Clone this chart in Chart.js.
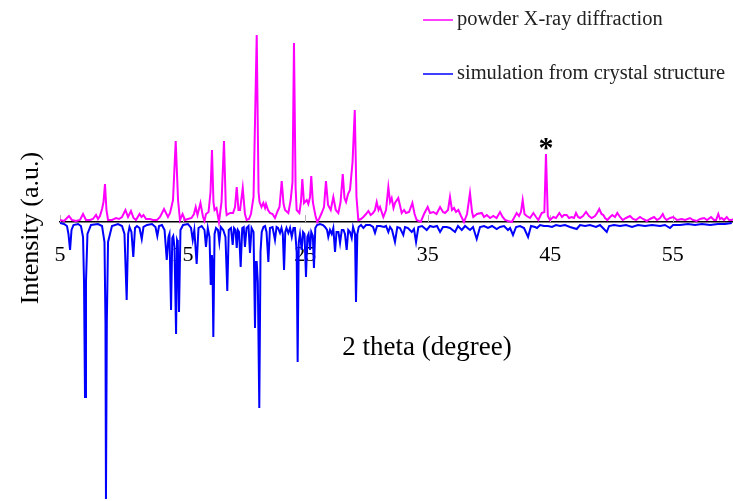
<!DOCTYPE html>
<html>
<head>
<meta charset="utf-8">
<script src="https://cdn.jsdelivr.net/npm/chart.js@4/dist/chart.umd.min.js"></script>
<style>
  html, body { margin: 0; padding: 0; background: #fff; }
  #wrap { width: 733px; height: 501px; position: relative; }
</style>
</head>
<body>
<div id="wrap"><canvas id="xrdChart"></canvas></div>
<script>
// tick labels on the 2-theta axis
const tickValues = [5, 15, 25, 35, 45, 55];

// measured powder pattern (2 theta, intensity a.u.)
const pxrdTheta = [
  5.00,5.33,5.49,5.73,5.98,6.31,6.63,6.88,7.12,7.45,
  7.69,7.94,8.10,8.26,8.43,8.55,8.67,8.79,8.92,9.24,
  9.57,9.81,10.06,10.34,10.55,10.79,11.00,11.20,11.49,11.65,
  11.81,12.02,12.34,12.59,12.91,13.16,13.49,13.65,13.81,13.98,
  14.22,14.44,14.63,14.79,15.00,15.20,15.44,15.73,15.93,16.07,
  16.22,16.46,16.67,16.79,16.91,17.12,17.28,17.40,17.52,17.61,
  17.77,17.97,18.18,18.38,18.53,18.60,18.87,19.12,19.28,19.42,
  19.56,19.69,19.91,20.09,20.23,20.42,20.58,20.79,21.05,21.20,
  21.28,21.44,21.59,21.73,21.81,21.97,22.13,22.34,22.54,22.76,
  22.91,23.09,23.24,23.36,23.63,23.82,23.97,24.09,24.22,24.31,
  24.53,24.66,24.77,24.91,25.13,25.26,25.40,25.50,25.63,25.72,
  25.85,25.99,26.17,26.35,26.54,26.70,26.87,27.09,27.30,27.50,
  27.71,27.89,28.07,28.21,28.34,28.50,28.66,28.87,29.05,29.19,
  29.34,29.56,29.75,29.97,30.16,30.35,30.54,30.70,30.84,30.99,
  31.11,31.38,31.60,31.79,31.93,32.06,32.21,32.33,32.60,32.88,
  33.07,33.23,33.48,33.75,33.93,34.10,34.43,34.70,35.00,35.19,
  35.46,35.72,36.01,36.25,36.41,36.66,36.82,36.98,37.15,37.31,
  37.50,37.72,37.96,38.21,38.45,38.62,38.72,39.02,39.41,39.60,
  39.82,40.09,40.35,40.62,40.90,41.11,41.31,41.55,41.86,42.04,
  42.26,42.45,42.61,42.75,42.90,43.08,43.35,43.62,43.84,44.03,
  44.30,44.52,44.65,44.80,44.98,45.25,45.47,45.74,45.96,46.12,
  46.34,46.53,46.75,46.94,47.10,47.27,47.43,47.67,47.92,48.16,
  48.38,48.65,48.82,49.00,49.18,49.33,49.47,49.66,49.88,50.06,
  50.28,50.47,50.69,50.91,51.18,51.51,51.75,52.00,52.32,52.57,
  52.87,53.14,53.47,53.71,53.96,54.18,54.32,54.50,54.77,55.04,
  55.34,55.73,56.00,56.40,56.65,56.95,57.22,57.55,57.79,58.12,
  58.36,58.53,58.71,58.85,58.99,59.18,59.40,59.59,59.81,59.91
];
const pxrdIntensity = [
  2,1,3,6,2,1,2,8,2,2,
  3,7,3,6,13,20,38,12,2,2,
  4,3,5,12,5,11,4,2,8,5,
  7,3,3,2,2,5,13,9,5,9,
  22,81,22,2,8,2,3,4,8,15,
  7,19,5,1,8,10,30,72,20,12,
  14,0,20,81,15,7,9,9,15,35,
  12,12,34,8,2,3,8,25,187,30,
  20,15,19,14,18,12,9,8,4,11,
  15,41,18,12,9,22,40,179,35,12,
  9,20,43,19,22,18,25,46,20,14,
  6,0,4,9,15,41,17,12,25,12,
  9,20,48,24,20,28,32,60,112,25,
  2,3,5,8,11,7,9,12,20,12,
  15,5,12,35,20,24,14,19,24,9,
  12,9,10,19,8,2,0,8,15,9,
  10,8,15,10,9,12,25,12,14,10,
  12,6,0,8,29,10,5,8,9,5,
  7,4,6,4,10,5,2,1,0,4,
  9,6,10,22,8,6,4,9,5,2,
  9,10,68,6,2,5,4,9,5,7,
  7,4,5,4,9,5,4,6,10,6,
  4,6,9,13,8,7,4,2,5,7,
  5,9,5,2,4,6,3,2,5,3,
  1,3,5,2,4,8,4,2,4,5,
  2,3,2,4,2,1,3,4,2,5,
  2,2,8,3,4,2,5,2,2,3
];

// simulated pattern, plotted downwards
const simTheta = [
  5.00,5.33,5.57,5.69,5.82,5.94,6.10,6.47,6.71,6.88,
  6.96,7.04,7.12,7.24,7.53,8.10,8.43,8.63,8.71,8.75,
  8.82,8.92,9.24,9.73,10.06,10.26,10.44,10.56,10.67,10.83,
  10.98,11.12,11.28,11.49,11.67,11.81,12.10,12.51,12.79,12.94,
  13.08,13.32,13.53,13.71,13.85,13.93,14.06,14.16,14.24,14.34,
  14.47,14.55,14.61,14.71,14.83,15.04,15.44,15.69,15.83,15.96,
  16.15,16.30,16.56,16.79,16.91,17.06,17.20,17.30,17.39,17.44,
  17.51,17.61,17.73,17.89,18.00,18.12,18.32,18.50,18.65,18.77,
  18.95,19.09,19.20,19.32,19.42,19.51,19.61,19.74,19.87,19.99,
  20.09,20.22,20.38,20.50,20.63,20.79,20.91,20.98,21.05,21.14,
  21.26,21.36,21.46,21.60,21.73,21.85,22.00,22.13,22.34,22.54,
  22.67,22.79,22.95,23.07,23.18,23.28,23.38,23.48,23.63,23.77,
  23.91,24.05,24.17,24.31,24.39,24.48,24.58,24.72,24.83,24.95,
  25.07,25.18,25.28,25.40,25.50,25.63,25.72,25.83,25.97,26.21,
  26.46,26.62,26.79,26.89,27.03,27.17,27.30,27.44,27.56,27.72,
  27.85,27.99,28.13,28.25,28.39,28.52,28.66,28.80,28.91,29.07,
  29.15,29.26,29.37,29.56,29.75,29.97,30.29,30.54,30.70,30.87,
  31.11,31.44,31.60,31.79,31.93,32.09,32.33,32.52,32.74,33.01,
  33.15,33.39,33.70,33.88,34.05,34.24,34.54,34.92,35.19,35.46,
  35.76,36.01,36.25,36.55,36.82,37.23,37.47,37.78,38.05,38.45,
  38.70,39.00,39.27,39.60,39.92,40.25,40.63,40.90,41.23,41.55,
  41.72,41.96,42.21,42.53,42.86,43.19,43.43,43.76,43.92,44.17,
  44.49,44.82,45.14,45.47,45.80,46.20,46.61,47.16,47.43,47.84,
  48.24,48.73,49.06,49.61,49.80,50.20,50.69,51.18,51.67,52.16,
  52.73,53.30,53.96,54.36,54.77,55.02,55.59,56.24,56.81,57.38,
  58.04,58.69,59.26,59.81
];
const simIntensity = [
  -1,-2,-4,-12,-28,-8,-3,-2,-4,-15,
  -60,-175,-60,-12,-3,-2,-4,-20,-100,-277,
  -100,-20,-4,-2,-4,-12,-78,-12,-5,-10,
  -35,-6,-4,-6,-17,-5,-3,-2,-5,-14,
  -4,-3,-8,-38,-15,-12,-88,-16,-14,-25,
  -112,-18,-20,-90,-8,-3,-2,-6,-18,-8,
  -42,-6,-4,-8,-25,-6,-15,-63,-33,-40,
  -115,-12,-6,-8,-20,-5,-8,-15,-69,-8,
  -6,-23,-6,-8,-26,-8,-10,-45,-6,-5,
  -25,-6,-4,-31,-6,-10,-106,-40,-40,-60,
  -186,-30,-10,-5,-4,-10,-40,-6,-5,-18,
  -5,-6,-11,-6,-12,-48,-10,-6,-11,-6,
  -15,-6,-6,-30,-140,-20,-12,-28,-10,-12,
  -55,-15,-12,-28,-10,-14,-46,-6,-3,-2,
  -3,-5,-8,-15,-8,-12,-6,-30,-10,-10,
  -21,-8,-8,-12,-28,-8,-10,-16,-5,-12,
  -80,-12,-5,-3,-6,-3,-3,-5,-11,-4,
  -4,-5,-4,-10,-5,-8,-20,-5,-6,-13,
  -5,-6,-10,-7,-20,-5,-4,-8,-4,-5,
  -4,-10,-5,-5,-6,-10,-4,-8,-4,-8,
  -5,-17,-5,-4,-6,-4,-7,-5,-4,-8,
  -6,-13,-5,-4,-6,-15,-4,-5,-6,-3,
  -4,-4,-5,-3,-4,-3,-5,-7,-3,-4,
  -3,-5,-3,-10,-4,-3,-4,-3,-5,-3,
  -4,-3,-4,-3,-6,-3,-3,-2,-3,-2,
  -3,-2,-2,-1
];

const serif = '"Liberation Serif", "Times New Roman", serif';

const toPoints = (xs, ys) => xs.map((x, i) => ({ x: x, y: ys[i] }));

// small upward ticks on the zero line, titles, legend and the * marker
const decorations = {
  id: 'decorations',
  beforeDatasetsDraw(chart) {
    const ctx = chart.ctx;
    const xs = chart.scales.x;
    const y0 = chart.scales.y.getPixelForValue(0);
    ctx.save();
    ctx.strokeStyle = '#b0b0b0';
    ctx.lineWidth = 1;
    tickValues.forEach(v => {
      const px = Math.round(xs.getPixelForValue(v)) + 0.5;
      ctx.beginPath();
      ctx.moveTo(px, y0);
      ctx.lineTo(px, y0 - 7);
      ctx.stroke();
    });
    ctx.restore();
  },
  afterDraw(chart) {
    const ctx = chart.ctx;
    ctx.save();
    ctx.fillStyle = '#000';

    // y title
    ctx.font = '26px ' + serif;
    ctx.textAlign = 'center';
    ctx.textBaseline = 'middle';
    ctx.save();
    ctx.translate(31, 228);
    ctx.rotate(-Math.PI / 2);
    ctx.fillText('Intensity (a.u.)', 0, 0);
    ctx.restore();

    // x title sits inside the plot
    ctx.font = '27px ' + serif;
    ctx.fillText('2 theta (degree)', 427, 348);

    // marker above the 44.6 deg peak
    ctx.font = 'bold 30px ' + serif;
    ctx.textBaseline = 'alphabetic';
    ctx.fillText('*', chart.scales.x.getPixelForValue(44.65), 157);

    // legend
    ctx.font = '20.5px ' + serif;
    ctx.textAlign = 'left';
    ctx.textBaseline = 'middle';
    const rows = [20, 74];
    chart.data.datasets.forEach((ds, i) => {
      const y = rows[i];
      ctx.strokeStyle = ds.borderColor;
      ctx.lineWidth = 1.5;
      ctx.beginPath();
      ctx.moveTo(423, y);
      ctx.lineTo(453, y);
      ctx.stroke();
      ctx.fillStyle = '#222';
      ctx.fillText(ds.label, 457, y);
    });
    ctx.restore();
  }
};

const ctx = document.getElementById('xrdChart').getContext('2d');
const xrdChart = new Chart(ctx, {
  type: 'line',
  data: {
    datasets: [
      {
        label: 'powder X-ray diffraction',
        data: toPoints(pxrdTheta, pxrdIntensity),
        borderColor: '#ff00ff',
        borderWidth: 2,
        pointRadius: 0,
        tension: 0
      },
      {
        label: 'simulation from crystal structure',
        data: toPoints(simTheta, simIntensity),
        borderColor: '#0000ff',
        borderWidth: 2,
        pointRadius: 0,
        tension: 0
      }
    ]
  },
  options: {
    responsive: true,
    maintainAspectRatio: false,
    animation: false,
    layout: { padding: { left: 60, right: 0, top: 0, bottom: 0 } },
    plugins: {
      legend: { display: false },
      tooltip: { enabled: false }
    },
    scales: {
      x: {
        type: 'linear',
        min: 5,
        max: 59.91,
        position: { y: 0 },
        grid: { display: false, drawTicks: false },
        border: { display: true, color: '#000', width: 1.5 },
        afterBuildTicks: scale => {
          scale.ticks = tickValues.map(v => ({ value: v }));
        },
        ticks: {
          autoSkip: false,
          maxRotation: 0,
          padding: 20,
          color: '#000',
          font: { family: serif, size: 22 }
        }
      },
      y: {
        display: false,
        min: -279,
        max: 222
      }
    }
  },
  plugins: [decorations]
});
</script>
</body>
</html>
